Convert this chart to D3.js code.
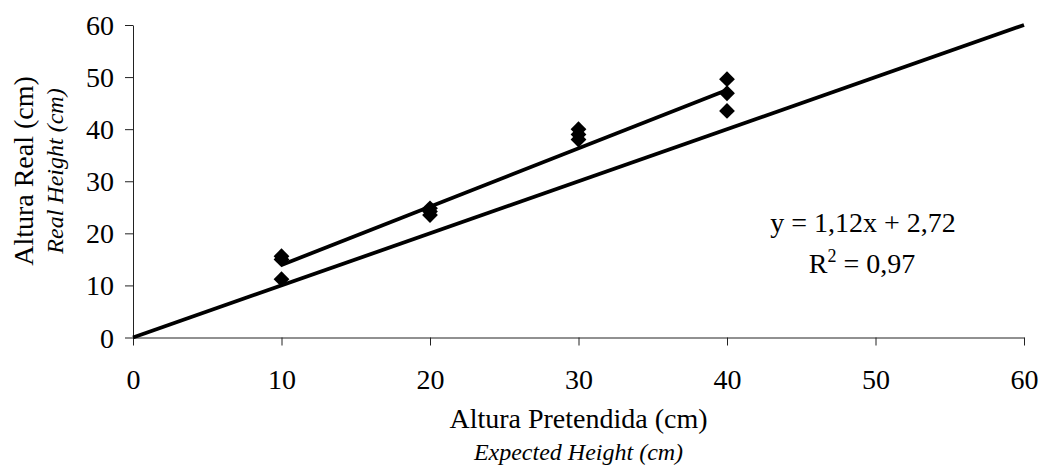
<!DOCTYPE html>
<html>
<head>
<meta charset="utf-8">
<script src="https://cdn.jsdelivr.net/npm/d3@7"></script>
<style>
  html, body { margin: 0; padding: 0; background: #fff; }
  svg { display: block; }
  text { font-family: "Liberation Serif", "Times New Roman", serif; fill: #000; }
</style>
</head>
<body>
<svg id="chart" width="1041" height="467"></svg>
<script>
// Expected vs. measured height, with the fitted trend line and the 1:1 line
const expected = [10, 10, 10, 20, 20, 20, 30, 30, 30, 40, 40, 40];
const measured = [15.6, 15.0, 11.2, 24.8, 24.2, 23.5, 40.0, 39.0, 38.0, 49.6, 46.9, 43.5];
const xTicks = [0, 10, 20, 30, 40, 50, 60];
const yTicks = [0, 10, 20, 30, 40, 50, 60];
const fitSlope = 1.12;
const fitIntercept = 2.72;
const fitRange = [10, 40];
const identityRange = [0, 60];
const equationText = "y = 1,12x + 2,72";
const r2Parts = ["R", "2", " = 0,97"];

const svg = d3.select("#chart");
const x = d3.scaleLinear().domain([0, 60]).range([133, 1024]);
const y = d3.scaleLinear().domain([0, 60]).range([337.5, 25]);

// Axes
const xAxis = svg.append("g")
  .attr("transform", `translate(0,${y(0)})`)
  .call(d3.axisBottom(x).tickValues(xTicks).tickSize(8).tickSizeOuter(0).tickPadding(24));
const yAxis = svg.append("g")
  .attr("transform", `translate(${x(0)},0)`)
  .call(d3.axisLeft(y).tickValues(yTicks).tickSize(8).tickSizeOuter(0).tickPadding(11));

[xAxis, yAxis].forEach(g => {
  g.select(".domain").attr("stroke", "#222").attr("stroke-width", 1);
  g.selectAll(".tick line").attr("stroke", "#222").attr("stroke-width", 1);
  g.selectAll(".tick text")
    .style("font-family", "'Liberation Serif', 'Times New Roman', serif")
    .style("font-size", "28px").attr("fill", "#000");
});
yAxis.selectAll(".tick text").attr("dy", "0.34em");

// 1:1 reference line
const line = d3.line().x(d => x(d[0])).y(d => y(d[1]));
svg.append("path")
  .datum(identityRange.map(v => [v, v]))
  .attr("d", line)
  .attr("stroke", "#000").attr("stroke-width", 3.8).attr("fill", "none");

// Linear trend line
svg.append("path")
  .datum(fitRange.map(v => [v, fitSlope * v + fitIntercept]))
  .attr("d", line)
  .attr("stroke", "#000").attr("stroke-width", 3.8).attr("fill", "none");

// Measurement markers (diamonds)
svg.append("g").selectAll("path")
  .data(expected.map((e, i) => [e, measured[i]]))
  .join("path")
  .attr("transform", d => `translate(${x(d[0])},${y(d[1])}) rotate(45)`)
  .attr("d", d3.symbol().type(d3.symbolSquare).size(125))
  .attr("fill", "#000");

// Equation and R²
svg.append("text")
  .attr("x", 863).attr("y", 232)
  .attr("text-anchor", "middle")
  .style("font-size", "28px")
  .text(equationText);
const r2 = svg.append("text")
  .attr("x", 862).attr("y", 273)
  .attr("text-anchor", "middle")
  .style("font-size", "28px");
r2.append("tspan").text(r2Parts[0]);
r2.append("tspan").attr("dy", -11).style("font-size", "18px").text(r2Parts[1]);
r2.append("tspan").attr("dy", 11).text(r2Parts[2]);

// Axis titles
const xMid = (x(0) + x(60)) / 2;
svg.append("text")
  .attr("x", xMid).attr("y", 428)
  .attr("text-anchor", "middle")
  .style("font-size", "28px")
  .text("Altura Pretendida (cm)");
svg.append("text")
  .attr("x", xMid).attr("y", 460)
  .attr("text-anchor", "middle")
  .style("font-size", "24px").style("font-style", "italic")
  .text("Expected Height (cm)");
svg.append("text")
  .attr("transform", `translate(33,171) rotate(-90)`)
  .attr("text-anchor", "middle")
  .style("font-size", "28px")
  .text("Altura Real (cm)");
svg.append("text")
  .attr("transform", `translate(63,171) rotate(-90)`)
  .attr("text-anchor", "middle")
  .style("font-size", "24px").style("font-style", "italic")
  .text("Real Height (cm)");
</script>
</body>
</html>
